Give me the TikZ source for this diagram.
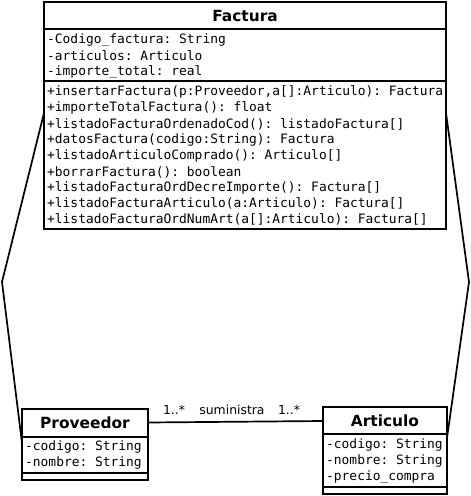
\documentclass[tikz,border=0pt]{standalone}
\usepackage{fontspec}
\setmainfont{DejaVu Sans}
\setmonofont{DejaVu Sans Mono}
\usetikzlibrary{calc}
\begin{document}
\begin{tikzpicture}[x=1pt,y=-1pt,
  box/.style={draw,line width=2pt,inner sep=0pt,outer sep=0pt,anchor=north west},
  sep/.style={line width=2pt},
  ttl/.style={font=\fontsize{15.4}{16}\selectfont\bfseries,inner sep=0pt},
  mono/.style={font=\fontsize{12.9}{16}\ttfamily,anchor=west,inner sep=0pt},
  lbl/.style={font=\fontsize{12.4}{14}\selectfont,inner sep=0pt},
  conn/.style={line width=1.7pt}]
\useasboundingbox (0,0) rectangle (471,496);
% Factura
\node[box,minimum width=402pt,minimum height=227pt] (fact) at (44,2) {};
\draw[sep] ($(fact.north west)+(0,27)$) -- ($(fact.north east)+(0,27)$);
\draw[sep] ($(fact.north west)+(0,79)$) -- ($(fact.north east)+(0,79)$);
\node[ttl] (factT) at (245,16) {Factura};
\node[mono] (fa1) at (47,40) {-Codigo\_factura: String};
\node[mono] (fa2) at (47,56) {-articulos: Articulo};
\node[mono] (fa3) at (47,72) {-importe\_total: real};
\node[mono] (fm1) at (47,92) {+insertarFactura(p:Proveedor,a[]:Articulo): Factura};
\node[mono] (fm2) at (47,108) {+importeTotalFactura(): float};
\node[mono] (fm3) at (47,124) {+listadoFacturaOrdenadoCod(): listadoFactura[]};
\node[mono] (fm4) at (47,140) {+datosFactura(codigo:String): Factura};
\node[mono] (fm5) at (47,156) {+listadoArticuloComprado(): Articulo[]};
\node[mono] (fm6) at (47,172) {+borrarFactura(): boolean};
\node[mono] (fm7) at (47,187.5) {+listadoFacturaOrdDecreImporte(): Factura[]};
\node[mono] (fm8) at (47,203.5) {+listadoFacturaArticulo(a:Articulo): Factura[]};
\node[mono] (fm9) at (47,219) {+listadoFacturaOrdNumArt(a[]:Articulo): Factura[]};
% Proveedor
\node[box,minimum width=126pt,minimum height=71pt] (prov) at (22,409) {};
\draw[sep] ($(prov.north west)+(0,28)$) -- ($(prov.north east)+(0,28)$);
\draw[sep] ($(prov.north west)+(0,64)$) -- ($(prov.north east)+(0,64)$);
\node[ttl] (provT) at (85,423) {Proveedor};
\node[mono] (pa1) at (25,447) {-codigo: String};
\node[mono] (pa2) at (25,463) {-nombre: String};
% Articulo
\node[box,minimum width=124pt,minimum height=87pt] (art) at (323,407) {};
\draw[sep] ($(art.north west)+(0,27)$) -- ($(art.north east)+(0,27)$);
\draw[sep] ($(art.north west)+(0,80)$) -- ($(art.north east)+(0,80)$);
\node[ttl] (artT) at (385,420.5) {Articulo};
\node[mono] (aa1) at (326,445) {-codigo: String};
\node[mono] (aa2) at (326,461) {-nombre: String};
\node[mono] (aa3) at (326,477) {-precio\_compra};
% association
\coordinate (pE) at ($(prov.north east)+(0,13.5)$);
\coordinate (aW) at ($(art.north west)+(0,14)$);
\draw[conn] (pE) -- (aW);
\node[lbl] (m1) at (174,410) {1..*};
\node[lbl] (rel) at (232,410) {suministra};
\node[lbl] (m2) at (289,410) {1..*};
% side lines
\coordinate (fL) at ($(fact.north west)+(0,111)$);
\coordinate (fR) at ($(fact.north east)+(0,111)$);
\coordinate (kL) at (2,282);
\coordinate (kR) at (469,282);
\coordinate (pL) at ($(prov.north west)+(0,34)$);
\coordinate (aR) at ($(art.north east)+(0,31)$);
\draw[conn] (fL) -- (kL) -- (pL);
\draw[conn] (fR) -- (kR) -- (aR);
\end{tikzpicture}
\end{document}
